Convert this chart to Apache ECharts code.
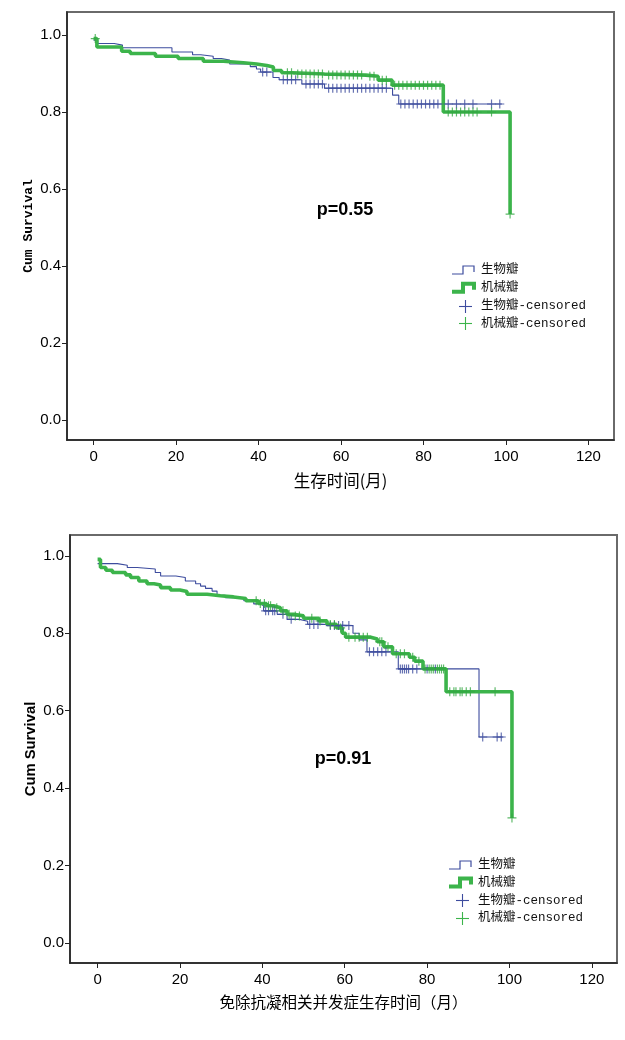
<!DOCTYPE html>
<html><head><meta charset="utf-8">
<script src="https://cdn.jsdelivr.net/npm/echarts@6/dist/echarts.min.js"></script>
<style>html,body{margin:0;padding:0;background:#fff}#c{width:625px;height:1040px}</style>
</head><body><div id="c"></div>
<script>
// ---------- data ----------
const xTicks = [0, 20, 40, 60, 80, 100, 120];
const yTicks = [0, 0.2, 0.4, 0.6, 0.8, 1.0];
const groupNames = ['生物瓣', '机械瓣', '生物瓣-censored', '机械瓣-censored'];
const xNameTop = '生存时间(月)';
const xNameBot = '免除抗凝相关并发症生存时间（月）';
const yName = 'Cum Survival';
const pTop = 'p=0.55';
const pBot = 'p=0.91';

// Top chart: overall survival
const bioTopT = [0, 1, 5, 7, 19, 24, 26, 29, 31, 33, 38, 39.5, 40.5, 43.5, 45, 50.5, 56, 72.5, 74, 99];
const bioTopS = [0.987, 0.978, 0.974, 0.967, 0.956, 0.949, 0.945, 0.939, 0.935, 0.925, 0.918, 0.912, 0.904, 0.890, 0.884, 0.873, 0.862, 0.844, 0.821, 0.821];
const mechTopT = [0, 0.8, 6.8, 8.9, 15, 20.5, 26.6, 31.5, 36.3, 39.5, 42, 43.6, 45.6, 48.4, 56, 66, 69, 72.4, 84.8, 101];
const mechTopS = [0.991, 0.969, 0.958, 0.952, 0.945, 0.939, 0.932, 0.928, 0.925, 0.921, 0.917, 0.908, 0.902, 0.899, 0.896, 0.893, 0.883, 0.870, 0.800, 0.535];
const bioTopCens = [41, 42, 46, 47, 48, 49, 51.5, 52.5, 53.5, 54.5, 55.5, 57, 58, 59, 60, 61, 62, 63, 64, 65, 66, 67, 68, 69, 70, 71, 74.5, 75.5, 76.5, 77.5, 78.5, 79.5, 80.5, 81.5, 82.5, 83.5, 86, 88, 90, 92, 96.5, 98.5];
const mechTopCens = [0.4, 47, 48, 49.5, 50.5, 51.5, 52.5, 53.5, 54.5, 55.5, 57, 58, 59, 60, 61, 62, 63, 64, 65, 67, 68, 70, 71, 73, 74, 75, 76, 77, 78, 79, 80, 81, 82, 83, 84, 86, 87, 88, 89, 90, 91, 92, 93, 96.5, 101];

// Bottom chart: anticoagulation-complication-free survival
const bioBotT = [0, 4.8, 7.2, 9.6, 14, 15.3, 19, 21.3, 23.8, 25, 26.2, 27.8, 29, 31, 35.5, 37.9, 39.5, 40.3, 43.6, 46, 49, 51, 55, 62, 63.5, 65.4, 73, 92.6, 98.5];
const bioBotS = [0.980, 0.976, 0.970, 0.966, 0.957, 0.948, 0.944, 0.935, 0.928, 0.922, 0.916, 0.909, 0.898, 0.892, 0.884, 0.876, 0.871, 0.858, 0.849, 0.836, 0.831, 0.823, 0.820, 0.800, 0.783, 0.752, 0.708, 0.532, 0.532];
const mechBotT = [0, 0.7, 2, 3.6, 6.8, 8, 10, 12, 13.7, 15.3, 17.7, 20, 21.7, 26.6, 29.8, 33, 36, 39, 41, 42.7, 44.4, 46, 47.6, 50, 53.7, 55.7, 58, 59.4, 60.2, 66.3, 67.9, 69.5, 71.6, 75.7, 77, 79, 84.6, 100.6];
const mechBotS = [0.991, 0.970, 0.963, 0.957, 0.951, 0.944, 0.935, 0.928, 0.925, 0.918, 0.912, 0.908, 0.901, 0.897, 0.894, 0.890, 0.884, 0.877, 0.871, 0.866, 0.858, 0.849, 0.845, 0.839, 0.832, 0.823, 0.814, 0.800, 0.790, 0.785, 0.778, 0.765, 0.747, 0.738, 0.728, 0.708, 0.649, 0.323];
const bioBotCens = [40.8, 41.5, 42.5, 43, 45, 47, 51.5, 52.5, 53.5, 56.5, 57.5, 58.5, 59.5, 61, 66, 67, 68, 69, 70, 73.5, 74, 74.5, 75, 75.5, 76.5, 77.5, 80, 82, 93.5, 97, 98];
const mechBotCens = [38.5, 39.5, 40.5, 41.5, 42, 43.5, 45, 46.5, 48, 49, 52, 54, 56.5, 57.5, 59, 61, 62.5, 63.5, 64.5, 65.5, 68.5, 69, 70.5, 72.5, 73.5, 74.5, 76.5, 78, 79.5, 80.5, 81, 81.5, 82.5, 83, 83.5, 84, 85.5, 86.5, 87, 88, 88.5, 89.5, 90.5, 96.5, 100.6];

// ---------- styles ----------
const BLUE = '#3d4c9e';
const GREEN = '#3cb44b';
const MONO = "'Liberation Mono','Noto Sans CJK SC',monospace";
const SANS = "'Liberation Sans',Arial,sans-serif";
const PLUS = 'path://M-0.65,-5L0.65,-5L0.65,-0.65L5,-0.65L5,0.65L0.65,0.65L0.65,5L-0.65,5L-0.65,0.65L-5,0.65L-5,-0.65L-0.65,-0.65Z';

function pairs(T, S) { return T.map((t, i) => [t, S[i]]); }
function stepAt(T, S, t) { let v = S[0]; for (let i = 0; i < T.length; i++) { if (T[i] <= t) v = S[i]; } return v; }
function cens(T, S, C) { return C.map(t => [t, stepAt(T, S, t)]); }

function xAxis(gi, min, max, name, gap, fs) {
  return {
    type: 'value', gridIndex: gi, min: min, max: max,
    axisLine: { show: true, onZero: false, lineStyle: { color: '#222', width: 1.5 } },
    axisTick: { show: true, customValues: xTicks, length: 5, lineStyle: { color: '#222', width: 1 } },
    axisLabel: { customValues: xTicks, margin: 9, fontSize: 15, color: '#000', fontFamily: SANS },
    splitLine: { show: false },
    name: name, nameLocation: 'middle', nameGap: gap, nameMoveOverlap: false,
    nameTextStyle: { fontSize: fs, color: '#000', fontFamily: "'Noto Sans CJK SC'" }
  };
}
function yAxis(gi, min, max, gap, nameStyle) {
  return {
    type: 'value', gridIndex: gi, min: min, max: max,
    axisLine: { show: true, onZero: false, lineStyle: { color: '#222', width: 1.5 } },
    axisTick: { show: true, customValues: yTicks, length: 5, lineStyle: { color: '#222', width: 1 } },
    axisLabel: { customValues: yTicks, margin: 6, fontSize: 15, color: '#000', fontFamily: SANS, formatter: v => v.toFixed(1) },
    splitLine: { show: false },
    name: yName, nameLocation: 'middle', nameGap: gap, nameRotate: 90, nameMoveOverlap: false,
    nameTextStyle: nameStyle
  };
}
function curves(gi, bT, bS, mT, mS, bC, mC) {
  return [
    { type: 'line', name: groupNames[0], xAxisIndex: gi, yAxisIndex: gi, step: 'end', symbol: 'none', data: pairs(bT, bS), lineStyle: { color: BLUE, width: 1.1 }, z: 2 },
    { type: 'line', name: groupNames[1], xAxisIndex: gi, yAxisIndex: gi, step: 'end', symbol: 'none', data: pairs(mT, mS), lineStyle: { color: GREEN, width: 3.6 }, z: 3 },
    { type: 'scatter', name: groupNames[2], xAxisIndex: gi, yAxisIndex: gi, symbol: PLUS, symbolSize: 9, data: cens(bT, bS, bC), itemStyle: { color: BLUE }, z: 4 },
    { type: 'scatter', name: groupNames[3], xAxisIndex: gi, yAxisIndex: gi, symbol: PLUS, symbolSize: 9, data: cens(mT, mS, mC), itemStyle: { color: '#34a844' }, z: 5 }
  ];
}
function legend(x, y, dy) {
  const els = [];
  const icon = (cy, color, w) => ({ type: 'polyline', shape: { points: [[x, cy + 4], [x + 11, cy + 4], [x + 11, cy - 4], [x + 22, cy - 4], [x + 22, cy + 2]] }, style: { stroke: color, lineWidth: w, fill: null } });
  const plus = (cy, color) => {
    const c = Math.round(cy) + 0.5, px = x + 13.5;
    return [
      { type: 'line', shape: { x1: x + 7, y1: c, x2: x + 20, y2: c }, style: { stroke: color, lineWidth: 1.1 } },
      { type: 'line', shape: { x1: px, y1: c - 6.5, x2: px, y2: c + 6.5 }, style: { stroke: color, lineWidth: 1.1 } }
    ];
  };
  const txt = (cy, s) => ({ type: 'text', x: x + 29, y: cy, style: { text: s, fontSize: 12.5, fontFamily: MONO, fill: '#111', verticalAlign: 'middle' } });
  els.push(icon(y, BLUE, 1.2), txt(y, groupNames[0]));
  els.push(icon(y + dy, GREEN, 4), txt(y + dy, groupNames[1]));
  els.push(...plus(y + 2 * dy, BLUE), txt(y + 2 * dy, groupNames[2]));
  els.push(...plus(y + 3 * dy, GREEN), txt(y + 3 * dy, groupNames[3]));
  return els;
}

const chart = echarts.init(document.getElementById('c'), null, { renderer: 'canvas' });
chart.setOption({
  backgroundColor: '#fff',
  animation: false,
  grid: [
    { left: 67, top: 12, width: 547, height: 428, show: true, borderColor: '#6a6a6a', borderWidth: 2, backgroundColor: '#fff' },
    { left: 70, top: 535, width: 547, height: 428, show: true, borderColor: '#6a6a6a', borderWidth: 2, backgroundColor: '#fff' }
  ],
  xAxis: [xAxis(0, -6.45, 126.2, xNameTop, 32, 16.5), xAxis(1, -6.7, 126.1, xNameBot, 31, 15.5)],
  yAxis: [
    yAxis(0, -0.052, 1.06, 32, { fontSize: 13, color: '#000', fontFamily: "'Liberation Mono',monospace", fontWeight: 'bold' }),
    yAxis(1, -0.052, 1.054, 32, { fontSize: 14.8, color: '#000', fontFamily: SANS, fontWeight: 'bold' })
  ],
  series: [
    ...curves(0, bioTopT, bioTopS, mechTopT, mechTopS, bioTopCens, mechTopCens),
    ...curves(1, bioBotT, bioBotS, mechBotT, mechBotS, bioBotCens, mechBotCens)
  ],
  graphic: [
    { type: 'text', x: 345, y: 210, style: { text: pTop, fontSize: 18, fontWeight: 'bold', fontFamily: SANS, fill: '#000', align: 'center', verticalAlign: 'middle' } },
    { type: 'text', x: 343, y: 759, style: { text: pBot, fontSize: 18, fontWeight: 'bold', fontFamily: SANS, fill: '#000', align: 'center', verticalAlign: 'middle' } },
    ...legend(452, 270, 17.8),
    ...legend(449, 865, 17.6)
  ]
});
</script>
</body></html>
